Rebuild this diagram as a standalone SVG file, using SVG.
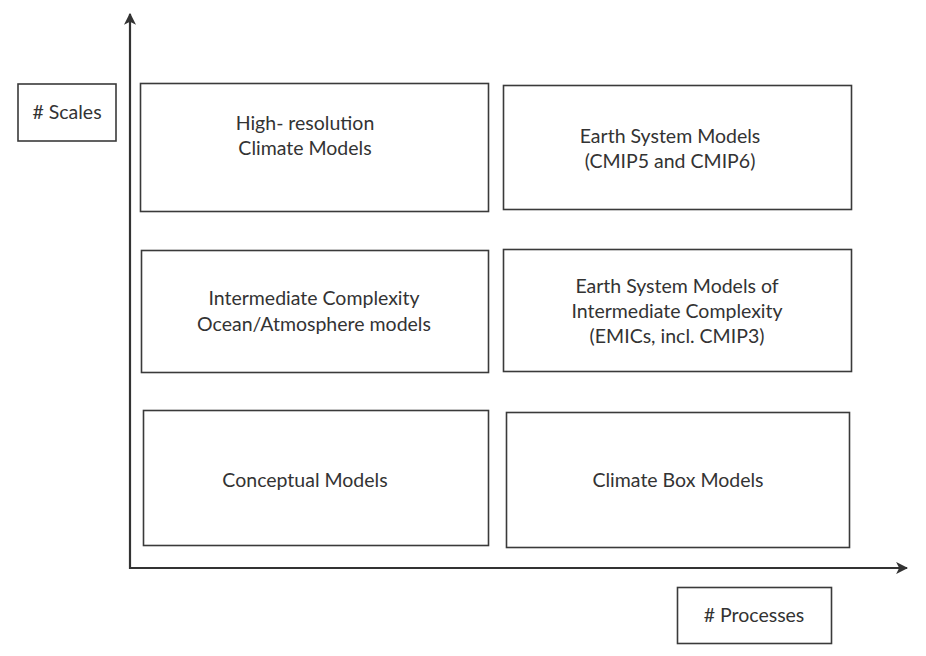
<svg xmlns="http://www.w3.org/2000/svg" width="926" height="656" viewBox="0 0 926 656">
<style>
.box{fill:#fff;stroke:#3a3a3a;stroke-width:1.6}
.t{font-family:Lato,"Open Sans","Liberation Sans",sans-serif;font-size:19.5px;fill:#333;text-anchor:middle}
.ax{stroke:#333;stroke-width:2.2;fill:none}
</style>
<defs>
<marker id="ah" viewBox="0 0 10 10" refX="9" refY="5" markerWidth="5.5" markerHeight="5.5" orient="auto" markerUnits="strokeWidth">
<path d="M0,0 L10,5 L0,10 L2.5,5 z" fill="#333"/>
</marker>
</defs>
<g id="connectors">
<line class="ax" x1="130" y1="569" x2="130" y2="14" marker-end="url(#ah)"/>
<line class="ax" x1="129" y1="568" x2="907" y2="568" marker-end="url(#ah)"/>
</g>
<g id="scales"><rect class="box" x="18" y="84" width="98" height="57"/><text class="t" x="67" y="119"># Scales</text></g>
<g id="hires"><rect class="box" x="140.5" y="83.5" width="348" height="128"/><text class="t" x="305" y="130">High- resolution</text><text class="t" x="305" y="155">Climate Models</text></g>
<g id="esm"><rect class="box" x="503.5" y="85.5" width="348" height="124"/><text class="t" x="670" y="143">Earth System Models</text><text class="t" x="670" y="168">(CMIP5 and CMIP6)</text></g>
<g id="intermediate"><rect class="box" x="141.5" y="250.5" width="347" height="122"/><text class="t" x="314" y="305">Intermediate Complexity</text><text class="t" x="314" y="331">Ocean/Atmosphere models</text></g>
<g id="emic"><rect class="box" x="503.5" y="249.5" width="348" height="122"/><text class="t" x="677" y="293">Earth System Models of</text><text class="t" x="677" y="318">Intermediate Complexity</text><text class="t" x="677" y="343">(EMICs, incl. CMIP3)</text></g>
<g id="conceptual"><rect class="box" x="143.5" y="410.5" width="345" height="135"/><text class="t" x="305" y="487">Conceptual Models</text></g>
<g id="box"><rect class="box" x="506.5" y="412.5" width="343" height="135"/><text class="t" x="678" y="487">Climate Box Models</text></g>
<g id="processes"><rect class="box" x="677.5" y="587.5" width="154" height="56"/><text class="t" x="754" y="622"># Processes</text></g>
</svg>
